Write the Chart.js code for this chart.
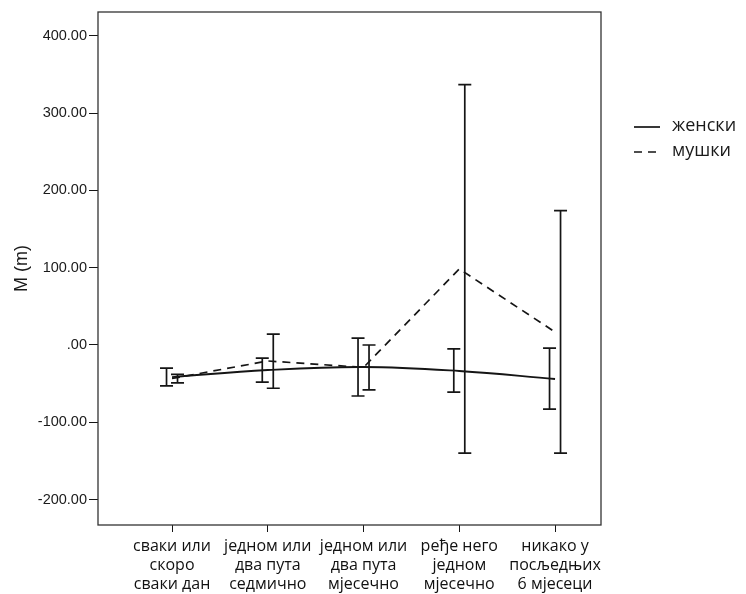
<!DOCTYPE html>
<html>
<head>
<meta charset="utf-8">
<script src="https://cdn.jsdelivr.net/npm/chart.js@4/dist/chart.umd.min.js"></script>
<style>
  body { margin: 0; background: #fff; }
</style>
</head>
<body>
<canvas id="chart" width="746" height="594"></canvas>
<script>
const categories = [
  ["сваки или", "скоро", "сваки дан"],
  ["једном или", "два пута", "седмично"],
  ["једном или", "два пута", "мјесечно"],
  ["ређе него", "једном", "мјесечно"],
  ["никако у", "посљедњих", "6 мјесеци"],
];

const yTicks = [-200, -100, 0, 100, 200, 300, 400];

// женски: means and 95% CI bounds
const femaleMean = [-41.5, -32.4, -28.5, -33.7, -44];
const femaleLow = [-53, -48, -66, -61, -83];
const femaleHigh = [-30, -17, 9, -5, -4];

// мушки: means and 95% CI bounds
const maleMean = [-43.4, -20.7, -29, 98.4, 16.8];
const maleLow = [-49, -56, -58, -140, -140];
const maleHigh = [-38, 14, 0, 337, 174];

const ink = "#151515";

const toPoints = (arr) => arr.map((v, i) => ({ x: i, y: v }));

const errorBars = {
  id: "errorBars",
  afterDatasetsDraw(chart) {
    const { ctx, scales } = chart;
    const capHalf = 6.5;
    ctx.save();
    ctx.strokeStyle = ink;
    ctx.lineWidth = 1.7;
    ctx.setLineDash([]);
    chart.data.datasets.forEach((ds) => {
      ds.low.forEach((lo, i) => {
        const x = scales.x.getPixelForValue(i) + ds.barShift;
        const yLo = scales.y.getPixelForValue(lo);
        const yHi = scales.y.getPixelForValue(ds.high[i]);
        ctx.beginPath();
        ctx.moveTo(x, yLo);
        ctx.lineTo(x, yHi);
        ctx.moveTo(x - capHalf, yLo);
        ctx.lineTo(x + capHalf, yLo);
        ctx.moveTo(x - capHalf, yHi);
        ctx.lineTo(x + capHalf, yHi);
        ctx.stroke();
      });
    });
    ctx.restore();
  },
};

const frame = {
  id: "frame",
  afterDraw(chart) {
    const { ctx, chartArea: a } = chart;
    ctx.save();
    ctx.strokeStyle = "#333";
    ctx.lineWidth = 1.3;
    ctx.strokeRect(a.left, a.top, a.right - a.left, a.bottom - a.top);
    ctx.restore();
  },
};

const sideLegend = {
  id: "sideLegend",
  afterDraw(chart) {
    const { ctx, chartArea: a } = chart;
    ctx.save();
    ctx.font = "18px 'Open Sans'";
    ctx.textBaseline = "middle";
    chart.data.datasets.forEach((ds, i) => {
      const y = a.top + 115 + i * 25;
      ctx.strokeStyle = ink;
      ctx.lineWidth = 1.7;
      ctx.setLineDash(ds.borderDash || []);
      ctx.beginPath();
      ctx.moveTo(a.right + 33, y);
      ctx.lineTo(a.right + 59, y);
      ctx.stroke();
      ctx.fillStyle = "#1a1a1a";
      ctx.fillText(ds.label, a.right + 71, y - 1);
    });
    ctx.restore();
  },
};

new Chart(document.getElementById("chart"), {
  type: "line",
  data: {
    datasets: [
      {
        label: "женски",
        data: toPoints(femaleMean),
        low: femaleLow,
        high: femaleHigh,
        barShift: -5.5,
        borderColor: ink,
        borderWidth: 1.8,
        pointRadius: 0,
        tension: 0.4,
      },
      {
        label: "мушки",
        data: toPoints(maleMean),
        low: maleLow,
        high: maleHigh,
        barShift: 5.5,
        borderColor: ink,
        borderWidth: 1.7,
        borderDash: [8, 6],
        pointRadius: 0,
        tension: 0,
      },
    ],
  },
  options: {
    responsive: false,
    animation: false,
    layout: { padding: { top: 12, right: 145, left: 0, bottom: 0 } },
    plugins: {
      legend: { display: false },
      tooltip: { enabled: false },
    },
    scales: {
      x: {
        type: "linear",
        min: -0.773,
        max: 4.48,
        afterBuildTicks: (scale) => {
          scale.ticks = categories.map((c, i) => ({ value: i }));
        },
        afterFit: (scale) => {
          scale.height = 69;
        },
        border: { display: false },
        grid: {
          drawOnChartArea: false,
          drawTicks: true,
          tickLength: 7,
          color: ink,
        },
        ticks: {
          autoSkip: false,
          maxRotation: 0,
          padding: 5,
          color: "#111",
          font: { family: "'Open Sans'", size: 16, lineHeight: "19px" },
          callback: (v) => categories[v],
        },
      },
      y: {
        min: -233,
        max: 431,
        afterBuildTicks: (scale) => {
          scale.ticks = yTicks.map((v) => ({ value: v }));
        },
        afterFit: (scale) => {
          scale.width = 98;
        },
        border: { display: false },
        grid: {
          drawOnChartArea: false,
          drawTicks: true,
          tickLength: 9,
          color: ink,
        },
        ticks: {
          padding: 2,
          color: "#1a1a1a",
          font: { family: "'Liberation Sans'", size: 14.5 },
          callback: (v) => (v === 0 ? ".00" : v.toFixed(2)),
        },
        title: {
          display: true,
          text: "M (m)",
          color: "#1a1a1a",
          font: { family: "'Liberation Sans'", size: 18 },
          padding: { top: 11, bottom: 0 },
        },
      },
    },
  },
  plugins: [errorBars, frame, sideLegend],
});
</script>
</body>
</html>
